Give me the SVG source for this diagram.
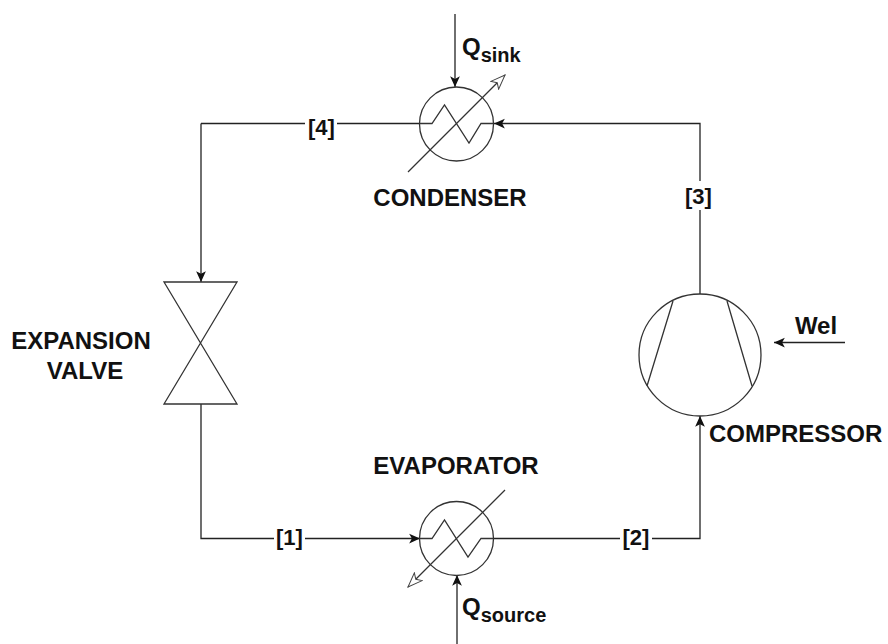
<svg xmlns="http://www.w3.org/2000/svg" width="888" height="644" viewBox="0 0 888 644">
<defs>
<marker id="ah" markerUnits="userSpaceOnUse" markerWidth="13" markerHeight="13" refX="10" refY="5" orient="auto" viewBox="0 0 12 10"><path d="M0 0.5L10 5L0 9.500L2.500 5Z" fill="#111"/></marker>
<marker id="oh" markerUnits="userSpaceOnUse" markerWidth="18" markerHeight="16" refX="15" refY="7" orient="auto" viewBox="0 0 18 14"><path d="M0.500 1.500L15 7L0.500 12.500L4 7Z" fill="#fff" stroke="#444" stroke-width="1"/></marker>
</defs>
<style>
.s{fill:#fff;stroke:#333;stroke-width:1.300}
.n{fill:none;stroke:#333;stroke-width:1.300}
.c{fill:none;stroke:#222;stroke-width:1.300}
.a{marker-end:url(#ah)}
.t{font-family:"Liberation Sans",Arial,sans-serif;font-weight:700;font-size:24px;fill:#111}
.l{font-family:"Liberation Sans",Arial,sans-serif;font-weight:700;font-size:22px;fill:#111;text-anchor:middle}
.m{text-anchor:middle}
.b{font-size:20px}
</style>
<rect width="888" height="644" fill="#fff"/>
<g id="connectors">
<path class="c a" d="M455 14V87"/>
<path class="c" d="M419 123.500H201"/>
<path class="c a" d="M201 123.500V282"/>
<path class="c" d="M201 404V538.500H300"/>
<path class="c a" d="M300 538.500H420"/>
<path class="c" d="M494 538.500H700V460"/>
<path class="c a" d="M700 460V416"/>
<path class="c" d="M700 294V123.500H600"/>
<path class="c a" d="M600 123.500H494"/>
<path class="c a" d="M845 342.500H774"/>
<path class="c a" d="M457 644V575"/>
</g>
<g id="condenser">
<circle class="s" cx="456.500" cy="124" r="37"/>
<path class="n" d="M419.500 123.500H432L444.500 105L469 143L481 123.500H494"/>
<path class="n" d="M408 172L505 75" marker-end="url(#oh)"/>
<text class="t m" x="450" y="206">CONDENSER</text>
<text class="t" x="462" y="55">Q<tspan class="b" dy="7">sink</tspan></text>
</g>
<g id="evaporator">
<circle class="s" cx="456.500" cy="538.500" r="37"/>
<path class="n" d="M419.500 538.500H432L444.500 520L468 557L481 538.500H494"/>
<path class="n" d="M505 490L408 587" marker-end="url(#oh)"/>
<text class="t m" x="456" y="474">EVAPORATOR</text>
<text class="t" x="462" y="615">Q<tspan class="b" dy="7">source</tspan></text>
</g>
<g id="expansion-valve">
<path class="s" d="M164 282H237L164 404H237Z"/>
<text class="t m" x="81" y="349">EXPANSION</text>
<text class="t m" x="85" y="379">VALVE</text>
</g>
<g id="compressor">
<circle class="s" cx="700" cy="355" r="61"/>
<path class="n" d="M673 301L647 386M727 301L752 386"/>
<text class="t" x="709" y="442">COMPRESSOR</text>
<text class="t m" x="816" y="334">Wel</text>
</g>
<g id="labels">
<rect x="305" y="112" width="32" height="24" fill="#fff"/><text class="l" x="321.500" y="135">[4]</text>
<rect x="684" y="181" width="32" height="29" fill="#fff"/><text class="l" x="698.500" y="204">[3]</text>
<rect x="274" y="526" width="31" height="24" fill="#fff"/><text class="l" x="289.500" y="545">[1]</text>
<rect x="620" y="526" width="32" height="24" fill="#fff"/><text class="l" x="636" y="545">[2]</text>
</g>
</svg>
